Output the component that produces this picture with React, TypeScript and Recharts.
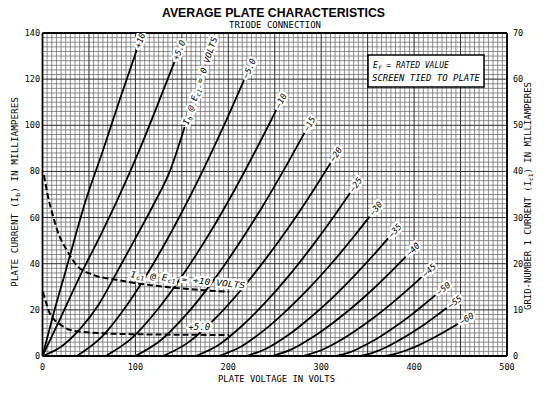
import React from 'react'
import { LineChart, Line, XAxis, YAxis, CartesianGrid, ReferenceLine } from 'recharts'

// plate current curves, [plate volts, mA]
const EC_P10 = [[0, 0], [12, 18.5], [25, 37], [46.7, 67.6], [65, 89], [83, 111], [101.4, 132.6]]
const EC_P5 = [[0, 0], [20, 17], [42, 36], [62, 52], [81, 68], [104, 89], [123, 108], [142, 127.4]]
const EC_0 = [[0, 0], [20, 4], [40, 11.5], [60, 22], [81, 37], [100, 51], [120, 66], [137, 80], [153, 99.3]]
const EC_M5 = [[37, 0], [64, 8.4], [91, 22.1], [118, 39.1], [145, 58.5], [172, 79.9], [199, 103.2], [217, 119.6]]
const EC_M10 = [[68, 0], [95.5, 7.5], [123, 19.7], [150.6, 34.9], [178.2, 52.1], [205.7, 71.2], [233.2, 92], [251.6, 106.6]]
const EC_M15 = [[100, 0], [127.3, 6.8], [154.6, 17.9], [181.9, 31.6], [209.2, 47.3], [236.5, 64.6], [263.8, 83.5], [282, 96.7]]
const EC_M20 = [[130, 0], [157, 5.9], [184, 15.5], [211, 27.3], [238, 40.9], [265, 55.8], [292, 72.1], [310, 83.6]]
const EC_M25 = [[165, 0], [189.9, 4.9], [214.8, 13.1], [239.7, 23.1], [264.6, 34.5], [289.5, 47.2], [314.4, 60.9], [331, 70.6]]
const EC_M30 = [[190, 0], [214.3, 4.2], [238.6, 11.2], [262.9, 19.8], [287.2, 29.5], [311.5, 40.3], [335.8, 52.1], [352, 60.4]]
const EC_M35 = [[220, 0], [242.8, 3.6], [265.6, 9.4], [288.4, 16.7], [311.2, 24.9], [334, 34.1], [356.8, 44], [372, 51]]
const EC_M40 = [[247, 0], [268.6, 3], [290.2, 8], [311.8, 14.1], [333.4, 21], [355, 28.7], [376.6, 37.1], [391, 43]]
const EC_M45 = [[280, 0], [299.2, 2.4], [318.4, 6.3], [337.6, 11.2], [356.8, 16.7], [376, 22.8], [395.2, 29.5], [408, 34.2]]
const EC_M50 = [[316, 0], [332, 1.8], [348.1, 4.9], [364.2, 8.6], [380.2, 12.9], [396.3, 17.6], [412.3, 22.8], [423, 26.4]]
const EC_M55 = [[342, 0], [356, 1.5], [369.9, 3.8], [383.9, 6.8], [397.8, 10.2], [411.8, 13.9], [425.7, 18], [435, 20.8]]
const EC_M60 = [[369, 0], [380.7, 1], [392.4, 2.6], [404.1, 4.5], [415.8, 6.8], [427.5, 9.3], [439.2, 12], [447, 13.9]]

const PLATE_CURVES = [EC_P10, EC_P5, EC_0, EC_M5, EC_M10, EC_M15, EC_M20, EC_M25, EC_M30, EC_M35, EC_M40, EC_M45, EC_M50, EC_M55, EC_M60]
const GRID_LABELS = ['+10', '+5.0', '0', '-5.0', '-10', '-15', '-20', '-25', '-30', '-35', '-40', '-45', '-50', '-55', '-60']

// grid-no.1 current (right scale), [plate volts, mA]
const IC1_P10 = [[1.6, 39.2], [6, 34.5], [11.5, 30.2], [17, 26.6], [26, 23], [36.7, 19.7], [54.5, 17.6], [80, 16.5], [94, 16], [115, 15.4], [158, 14.5], [201, 13.9]]
const IC1_P5 = [[0.5, 13.9], [4, 11.5], [7.7, 9.3], [12, 8], [16.6, 7.2], [30.6, 5.6], [45, 5.2], [66, 4.9], [105, 4.7], [157, 4.6], [201, 4.55]]

const X_TICKS = [0, 100, 200, 300, 400, 500]
const Y_TICKS = [0, 20, 40, 60, 80, 100, 120, 140]
const Y2_TICKS = [0, 10, 20, 30, 40, 50, 60, 70]

const W = 553
const H = 395
const PL = 42.5
const PR = 507
const PT = 33
const PB = 356
const PX_V = (PR - PL) / 500

const MONO = '"DejaVu Sans Mono", monospace'

const toRows = (pts: number[][]) => pts.map(([v, i]) => ({ v, i }))

const minorX: number[] = []
const majorX: number[] = []
for (let v = 0; v <= 500; v += 5) (v % 50 === 0 ? majorX : minorX).push(PL + v * PX_V)
const minorY: number[] = []
const majorY: number[] = []
for (let i = 0; i <= 140; i += 2) (i % 20 === 0 ? majorY : minorY).push(PB - i * (PB - PT) / 140)

const halo = { stroke: '#fff', strokeWidth: 4.5, paintOrder: 'stroke' as const, strokeLinejoin: 'round' as const }

function slopeAngle(a: number[], b: number[], max: number) {
  const pxI = (PB - PT) / max
  return Math.atan2((b[1] - a[1]) * pxI, (b[0] - a[0]) * PX_V) * 180 / Math.PI
}

function curveLabel(k: number) {
  const pts = PLATE_CURVES[k]
  const n = pts.length
  const ang = slopeAngle(pts[n - 2], pts[n - 1], 140)
  const text = GRID_LABELS[k]
  return (p: any) => {
    if (p.index !== n - 1) return <g key={`d${p.index}`} />
    return (
      <text key={`d${p.index}`} x={p.cx + 2.5} y={p.cy} transform={`rotate(${-ang} ${p.cx} ${p.cy})`}
        fontFamily={MONO} fontStyle="italic" fontSize={8.5} fill="#000" dominantBaseline="central"
        textLength={text === '0' ? 92 : undefined} lengthAdjust="spacingAndGlyphs" {...halo}>
        {text === '0' ? (
          <>
            I<tspan fontSize={6} dy={2}>b</tspan><tspan dy={-2}> @ E</tspan>
            <tspan fontSize={6} dy={2}>c1</tspan><tspan dy={-2}> = 0 VOLTS</tspan>
          </>
        ) : text.replace('-', '\u2212')}
      </text>
    )
  }
}

function ic1Label(pts: number[][], at: number, kind: 'p10' | 'p5') {
  const ang = kind === 'p10' ? slopeAngle(pts[at], pts[pts.length - 1], 70) : 0
  return (p: any) => {
    if (p.index !== at) return <g key={`d${p.index}`} />
    return (
      <text key={`d${p.index}`} x={p.cx} y={p.cy - 5} transform={`rotate(${-ang} ${p.cx} ${p.cy})`}
        fontFamily={MONO} fontStyle="italic" fontSize={8.5} fill="#000"
        textLength={kind === 'p10' ? 115 : 22} lengthAdjust="spacingAndGlyphs" {...halo}>
        {kind === 'p10' ? (
          <>
            I<tspan fontSize={6} dy={2}>c1</tspan><tspan dy={-2}> @ E</tspan>
            <tspan fontSize={6} dy={2}>c1</tspan><tspan dy={-2}> = +10 VOLTS</tspan>
          </>
        ) : '+5.0'}
      </text>
    )
  }
}

export default function App() {
  const tick = { fontSize: 8.5, fontFamily: MONO, fill: '#000' }
  return (
    <div style={{ position: 'absolute', left: 0, top: 0, width: W, height: H, background: '#fff' }}>
      <LineChart width={W} height={H} margin={{ top: PT, left: PL - 38, right: W - PR - 40, bottom: H - PB - 30 }}>
        <CartesianGrid verticalPoints={minorX} horizontalPoints={minorY} stroke="#707070" strokeWidth={0.8} />
        <CartesianGrid verticalPoints={majorX} horizontalPoints={majorY} stroke="#2a2a2a" strokeWidth={1} />
        <XAxis dataKey="v" type="number" domain={[0, 500]} ticks={X_TICKS} tick={tick} tickLine={false}
          tickSize={6} tickMargin={2} height={30} axisLine={{ stroke: '#000', strokeWidth: 1.8 }} allowDataOverflow />
        <YAxis yAxisId="left" type="number" domain={[0, 140]} ticks={Y_TICKS} tick={tick} tickLine={false}
          tickSize={2} tickMargin={0.5} width={38} axisLine={{ stroke: '#000', strokeWidth: 1.8 }} allowDataOverflow />
        <YAxis yAxisId="right" orientation="right" type="number" domain={[0, 70]} ticks={Y2_TICKS} tick={tick}
          tickLine={false} tickSize={3} tickMargin={3} width={40} axisLine={{ stroke: '#000', strokeWidth: 1.8 }} />
        <ReferenceLine yAxisId="left" y={140} stroke="#000" strokeWidth={1.8} />
        {PLATE_CURVES.map((pts, k) => (
          <Line key={GRID_LABELS[k]} yAxisId="left" data={toRows(pts)} dataKey="i" type="monotone"
            stroke="#000" strokeWidth={1.8} dot={curveLabel(k)} activeDot={false} isAnimationActive={false} />
        ))}
        <Line yAxisId="right" data={toRows(IC1_P10)} dataKey="i" type="monotone" stroke="#000" strokeWidth={2}
          strokeDasharray="6 3" dot={ic1Label(IC1_P10, 8, 'p10')} activeDot={false} isAnimationActive={false} />
        <Line yAxisId="right" data={toRows(IC1_P5)} dataKey="i" type="monotone" stroke="#000" strokeWidth={2}
          strokeDasharray="6 3" dot={ic1Label(IC1_P5, 9, 'p5')} activeDot={false} isAnimationActive={false} />
      </LineChart>
      <svg width={W} height={H} style={{ position: 'absolute', left: 0, top: 0, pointerEvents: 'none' }}>
        <text x={273.5} y={17} textAnchor="middle" fontFamily='"Liberation Sans", Arial, sans-serif' fontWeight="bold"
          fontSize={13.5} textLength={223} lengthAdjust="spacingAndGlyphs">AVERAGE PLATE CHARACTERISTICS</text>
        <text x={275} y={28} textAnchor="middle" fontFamily={MONO} fontSize={8} textLength={92}
          lengthAdjust="spacingAndGlyphs">TRIODE CONNECTION</text>
        <text x={276.5} y={382} textAnchor="middle" fontFamily={MONO} fontSize={8.5} textLength={117}
          lengthAdjust="spacingAndGlyphs">PLATE VOLTAGE IN VOLTS</text>
        <text transform="translate(18 192) rotate(-90)" textAnchor="middle" fontFamily={MONO} fontSize={8.5}
          textLength={190} lengthAdjust="spacingAndGlyphs">
          PLATE CURRENT (I<tspan fontSize={6} dy={2}>b</tspan><tspan dy={-2}>) IN MILLIAMPERES</tspan>
        </text>
        <text transform="translate(531 196) rotate(-90)" textAnchor="middle" fontFamily={MONO} fontSize={8.5}
          textLength={228} lengthAdjust="spacingAndGlyphs">
          GRID-NUMBER 1 CURRENT (I<tspan fontSize={6} dy={2}>c1</tspan><tspan dy={-2}>) IN MILLIAMPERES</tspan>
        </text>
        <rect x={368} y={55} width={116} height={32} fill="#fff" stroke="#000" strokeWidth={1.5} />
        <text x={373} y={68} fontFamily={MONO} fontStyle="italic" fontSize={8}>
          E<tspan fontSize={6} dy={2}>f</tspan><tspan dy={-2}> = RATED VALUE</tspan>
        </text>
        <text x={372} y={81} fontFamily={MONO} fontStyle="italic" fontSize={8} textLength={108}
          lengthAdjust="spacingAndGlyphs">SCREEN TIED TO PLATE</text>
      </svg>
    </div>
  )
}
